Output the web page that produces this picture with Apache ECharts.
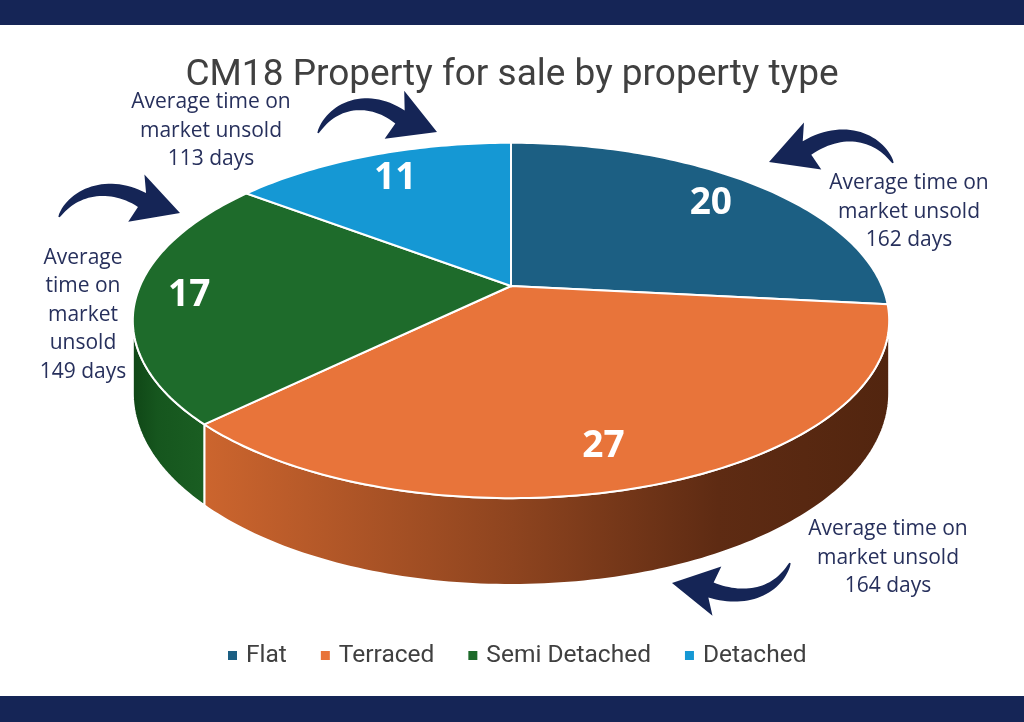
<!DOCTYPE html>
<html lang="en">
<head>
<meta charset="UTF-8">
<title>CM18 Property for sale by property type</title>
<script src="https://cdn.jsdelivr.net/npm/echarts@6.0.0/dist/echarts.min.js"></script>
<style>
    html, body { margin: 0; padding: 0; background: #fff; }
    #chart { width: 1024px; height: 722px; }
</style>
</head>
<body>
<div id="chart"></div>
<script>
    // data
    var categories = ['Flat', 'Terraced', 'Semi Detached', 'Detached'];
    var counts = [20, 27, 17, 11];
    var daysUnsold = [162, 164, 149, 113];

    // styling
    var topColors = ['#1c5f83', '#e8743a', '#1e6b2b', '#1598d4'];
    var wallStops = [
        [{offset: 0, color: '#123f58'}, {offset: 1, color: '#0c2c3e'}],
        [{offset: 0, color: '#cc652e'}, {offset: 0.45, color: '#8e441f'}, {offset: 0.75, color: '#5e2b13'}, {offset: 1, color: '#52250f'}],
        [{offset: 0, color: '#0f4616'}, {offset: 0.35, color: '#16561e'}, {offset: 1, color: '#1a5e22'}],
        [{offset: 0, color: '#0f6a96'}, {offset: 1, color: '#0b5175'}]
    ];
    // label placement tweaks (radius fraction, angle nudge in degrees)
    var labelR = [0.8, 0.82, 0.86, 0.8];
    var labelNudge = [0, 4.3, 0, 0];
    var navy = '#152556';
    var noteColor = '#27305c';

    // fake 3d pie geometry (perspective tilt)
    var CX = 511, CY = 286, RX = 371, RY = 171, PERSP = 0.194, DEPTH = 70;

    var total = counts.reduce(function (a, b) { return a + b; }, 0);

    function project(theta, r, drop) {
        var u = r * Math.sin(theta), v = r * Math.cos(theta);
        var w = 1 + PERSP * v;
        return [CX + RX * u / w, CY - RY * v / w + drop / w];
    }

    function arc(a0, a1, drop) {
        var pts = [];
        var n = Math.max(2, Math.ceil((a1 - a0) / (Math.PI / 180)));
        for (var k = 0; k <= n; k++) {
            pts.push(project(a0 + (a1 - a0) * k / n, 1, drop));
        }
        return pts;
    }

    // front side of the cylinder is visible between the two silhouettes
    var SIL0 = Math.acos(-PERSP), SIL1 = 2 * Math.PI - SIL0;

    function sliceRenderer(i) {
        return function (params, api) {
            var before = 0;
            for (var k = 0; k < i; k++) before += counts[k];
            var a0 = before / total * 2 * Math.PI;
            var a1 = (before + counts[i]) / total * 2 * Math.PI;
            var children = [];

            var w0 = Math.max(a0, SIL0), w1 = Math.min(a1, SIL1);
            if (w1 > w0) {
                var top = arc(w0, w1, 0);
                var bottom = arc(w0, w1, DEPTH).reverse();
                children.push({
                    type: 'polygon',
                    shape: {points: top.concat(bottom)},
                    style: {
                        fill: {type: 'linear', x: 0, y: 0, x2: 1, y2: 0, colorStops: wallStops[i]},
                        stroke: '#fff', lineWidth: 2
                    }
                });
            }

            children.push({
                type: 'polygon',
                shape: {points: [project(0, 0, 0)].concat(arc(a0, a1, 0))},
                style: {fill: topColors[i], stroke: '#fff', lineWidth: 2}
            });

            var lp = project((a0 + a1) / 2 + labelNudge[i] * Math.PI / 180, labelR[i], 0);
            children.push({
                type: 'text',
                style: {
                    text: String(counts[i]), x: lp[0], y: lp[1],
                    align: 'center', verticalAlign: 'middle',
                    fill: '#fff', font: 'bold 37px "Open Sans"'
                }
            });
            return {type: 'group', children: children};
        };
    }

    // curved hand-drawn style arrows
    function bez(p, t) {
        var m = 1 - t;
        return [
            m * m * m * p[0][0] + 3 * m * m * t * p[1][0] + 3 * m * t * t * p[2][0] + t * t * t * p[3][0],
            m * m * m * p[0][1] + 3 * m * m * t * p[1][1] + 3 * m * t * t * p[2][1] + t * t * t * p[3][1]
        ];
    }
    function bezD(p, t) {
        var m = 1 - t;
        return [
            3 * m * m * (p[1][0] - p[0][0]) + 6 * m * t * (p[2][0] - p[1][0]) + 3 * t * t * (p[3][0] - p[2][0]),
            3 * m * m * (p[1][1] - p[0][1]) + 6 * m * t * (p[2][1] - p[1][1]) + 3 * t * t * (p[3][1] - p[2][1])
        ];
    }
    function arrow(p, tip, half, bodyW) {
        var left = [], right = [], N = 30;
        for (var k = 0; k <= N; k++) {
            var t = k / N, pt = bez(p, t), d = bezD(p, t);
            var len = Math.sqrt(d[0] * d[0] + d[1] * d[1]);
            var nx = -d[1] / len, ny = d[0] / len;
            var hw = (1.5 + (bodyW - 1.5) * Math.pow(t, 0.7)) / 2;
            left.push([pt[0] + nx * hw, pt[1] + ny * hw]);
            right.push([pt[0] - nx * hw, pt[1] - ny * hw]);
        }
        var e = p[3];
        var dx = tip[0] - e[0], dy = tip[1] - e[1];
        var dl = Math.sqrt(dx * dx + dy * dy);
        dx /= dl; dy /= dl;
        var nx2 = -dy, ny2 = dx;
        var back = 6;
        var bl = [e[0] - dx * back + nx2 * half, e[1] - dy * back + ny2 * half];
        var br = [e[0] - dx * back - nx2 * half, e[1] - dy * back - ny2 * half];
        var pts = left.concat([bl, tip, br]).concat(right.reverse());
        return {type: 'polygon', shape: {points: pts}, style: {fill: navy}};
    }

    function note(text, x, y) {
        return {
            type: 'text',
            style: {
                text: text, x: x, y: y, align: 'center', verticalAlign: 'middle',
                fill: noteColor, font: '21px "Open Sans"', lineHeight: 28.5
            }
        };
    }
    var longNote = function (d) { return 'Average time on\nmarket unsold\n' + d + ' days'; };

    var chart = echarts.init(document.getElementById('chart'));

    var series = categories.map(function (name, i) {
        return {
            name: name,
            type: 'custom',
            coordinateSystem: 'none',
            itemStyle: {color: topColors[i]},
            renderItem: sliceRenderer(i),
            data: [counts[i]],
            silent: true
        };
    });

    var option = {
        backgroundColor: '#fff',
        animation: false,
        title: {
            text: 'CM18 Property for sale by property type',
            left: 'center',
            top: 52,
            textStyle: {fontFamily: 'Roboto', fontSize: 37, fontWeight: 'normal', color: '#404040'}
        },
        legend: {
            data: categories,
            left: 223,
            top: 638,
            icon: 'rect',
            itemWidth: 9,
            itemHeight: 9,
            itemGap: 34,
            textStyle: {fontFamily: 'Roboto', fontSize: 24.5, color: '#404040', padding: [0, 0, 0, 4]}
        },
        graphic: [
            {type: 'rect', shape: {x: 0, y: 0, width: 1024, height: 25}, style: {fill: navy}},
            {type: 'rect', shape: {x: 0, y: 696, width: 1024, height: 26}, style: {fill: navy}},
            arrow([[318, 133], [332, 104], [368, 94], [400, 117]], [437, 132], 26, 16),
            arrow([[59, 217], [72, 192], [108, 180], [142, 200]], [180, 213], 25, 16),
            arrow([[893, 163], [880, 138], [845, 124], [807, 148]], [769, 162], 25, 16),
            arrow([[790, 563], [778, 592], [745, 602], [711, 590]], [672, 583], 25, 16),
            note(longNote(daysUnsold[3]), 211, 131),
            note(longNote(daysUnsold[0]), 909, 212),
            note('Average\ntime on\nmarket\nunsold\n' + daysUnsold[2] + ' days', 83, 315),
            note(longNote(daysUnsold[1]), 888, 558)
        ],
        series: series
    };

    chart.setOption(option);
</script>
</body>
</html>
